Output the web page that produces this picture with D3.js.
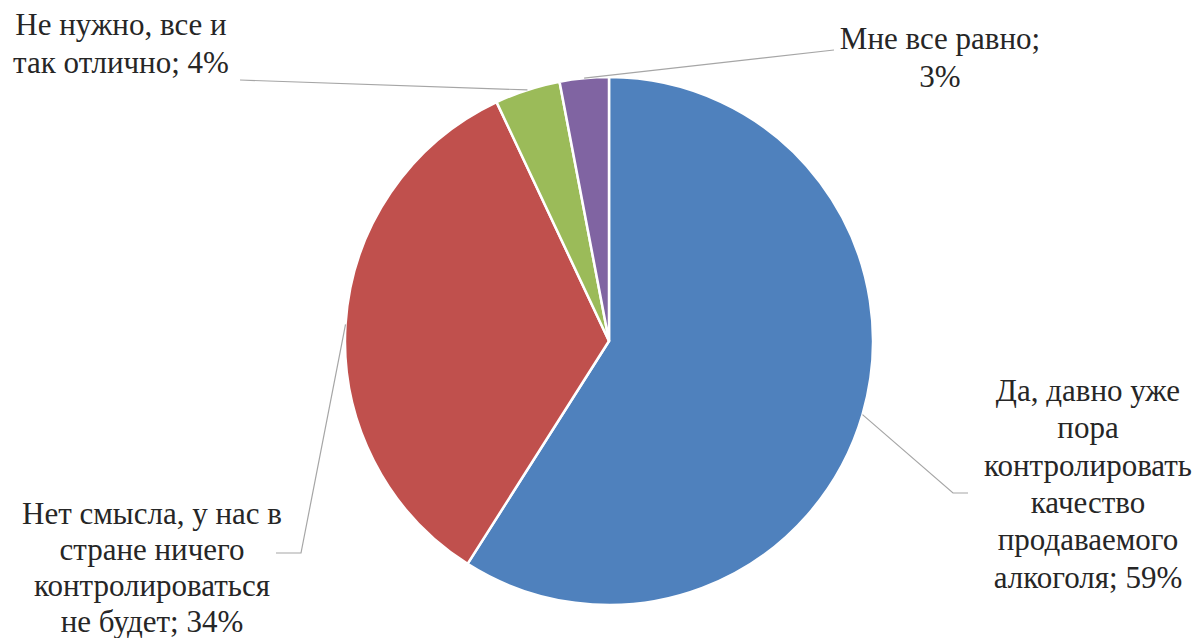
<!DOCTYPE html>
<html lang="ru"><head><meta charset="utf-8">
<script src="https://cdn.jsdelivr.net/npm/d3@7"></script>
</head>
<body style="margin:0">
<svg id="chart" width="1204" height="638"></svg>
<script>
// Data
const categories = [
  "Да, давно уже пора контролировать качество продаваемого алкоголя",
  "Нет смысла, у нас в стране ничего контролироваться не будет",
  "Не нужно, все и так отлично",
  "Мне все равно"
];
const values = [59, 34, 4, 3];
const colors = ["#4f81bd", "#c0504d", "#9bbb59", "#8064a2"];
// label line breaks (text as shown on chart)
const labelLines = [
  ["Да, давно уже", "пора", "контролировать", "качество", "продаваемого", "алкоголя; 59%"],
  ["Нет смысла, у нас в", "стране ничего", "контролироваться", "не будет; 34%"],
  ["Не нужно, все и", "так отлично; 4%"],
  ["Мне все равно;", "3%"]
];

// Layout
const cx = 609, cy = 341, R = 264;
const fontSize = 31;
const labelLayout = [
  {x: 1088, y: 401, lh: 37.3, elbow: [953, 493], end: [968, 493]},
  {x: 152, y: 524, lh: 36, elbow: [301, 553], end: [276, 553]},
  {x: 121, y: 35, lh: 38, elbow: null, end: [240, 80]},
  {x: 940, y: 49, lh: 38, elbow: null, end: [834, 50]}
];

const svg = d3.select("#chart");
const g = svg.append("g").attr("transform", `translate(${cx},${cy})`);

const pie = d3.pie().sort(null).value(d => d);
const arcs = pie(values);
const arc = d3.arc().innerRadius(0).outerRadius(R);
const edgeArc = d3.arc().innerRadius(R).outerRadius(R);

g.selectAll("path.slice").data(arcs).enter().append("path")
  .attr("class", "slice")
  .attr("d", arc)
  .attr("fill", (d, i) => colors[i])
  .attr("stroke", "#fff")
  .attr("stroke-width", 2.5)
  .attr("stroke-linejoin", "round");

// leader lines
arcs.forEach((d, i) => {
  const c = edgeArc.centroid(d);
  const L = labelLayout[i];
  const pts = [[cx + c[0], cy + c[1]]];
  if (L.elbow) pts.push(L.elbow);
  pts.push(L.end);
  svg.append("path")
    .attr("d", d3.line()(pts))
    .attr("fill", "none")
    .attr("stroke", "#a6a6a6")
    .attr("stroke-width", 1.2);
});

// labels: one text element per line
labelLines.forEach((lines, i) => {
  const L = labelLayout[i];
  lines.forEach((ln, j) => {
    svg.append("text")
      .attr("x", L.x)
      .attr("y", L.y + j * L.lh)
      .attr("text-anchor", "middle")
      .attr("font-size", fontSize)
      .style("font-family", "'Liberation Serif', Tinos, 'Times New Roman', serif")
      .attr("fill", "#262626")
      .text(ln);
  });
});
</script>
</body></html>
